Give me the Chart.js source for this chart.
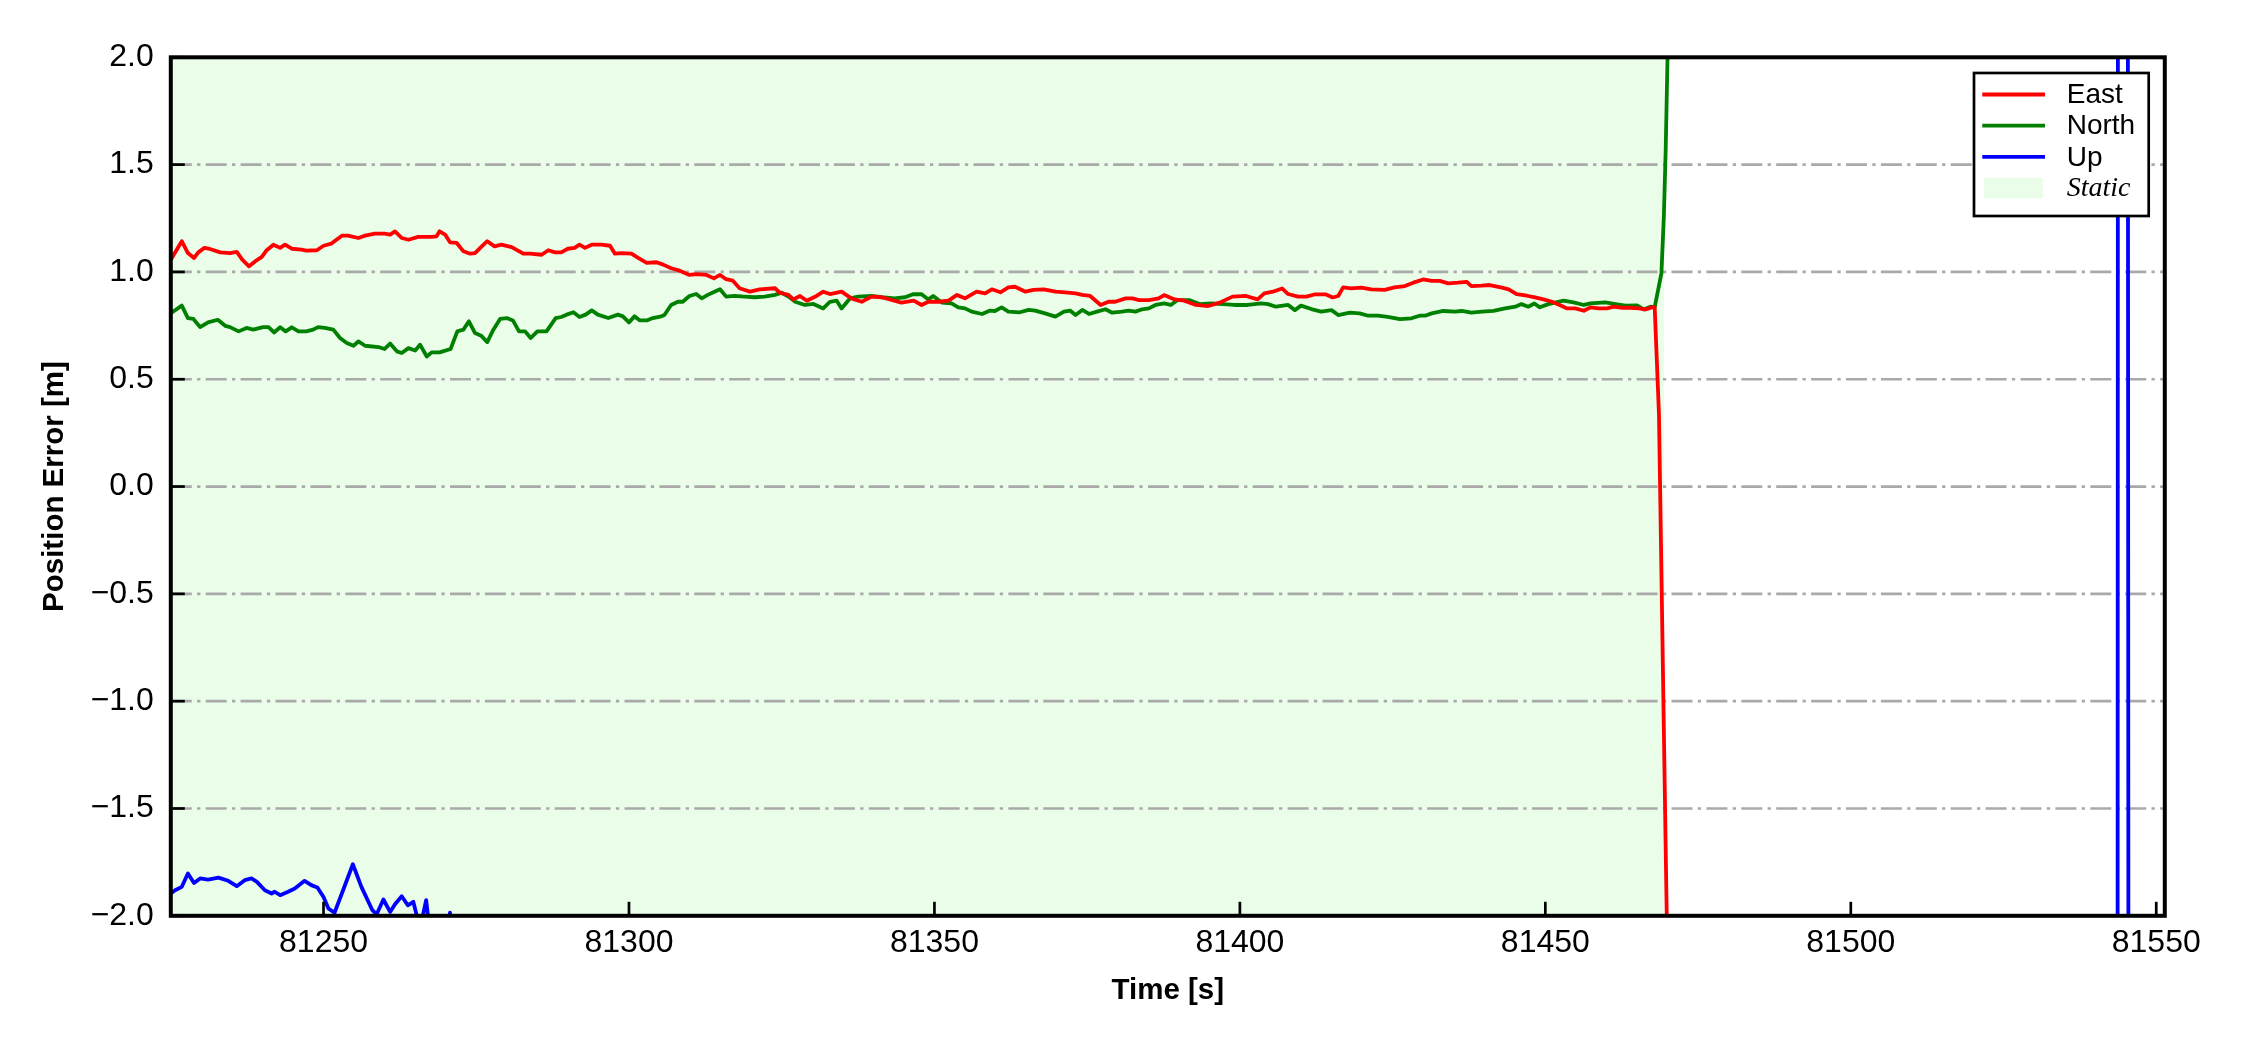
<!DOCTYPE html>
<html>
<head>
<meta charset="utf-8">
<script src="https://cdn.jsdelivr.net/npm/chart.js"></script>
<style>
  html, body { margin: 0; padding: 0; background: #ffffff; }
  #wrap { width: 2250px; height: 1050px; }
</style>
</head>
<body>
<div id="wrap"><canvas id="chart" width="2250" height="1050"></canvas></div>
<script>
// axis limits
const timeMin = 81225.0;
const timeMax = 81551.4;
const errMin = -2.0;
const errMax = 2.0;

// static period (shaded)
const staticStart = 81225.0;
const staticEnd = 81469.5;

const xTicks = [81250, 81300, 81350, 81400, 81450, 81500, 81550];
const yTicks = [-2.0, -1.5, -1.0, -0.5, 0.0, 0.5, 1.0, 1.5, 2.0];

// all times below are seconds after tBase
const tBase = 81200;

const eastT = [25.0, 26.8, 27.8, 28.8, 29.5, 30.5, 31.4, 33.1, 34.7, 35.8, 36.7, 37.8, 38.8, 39.9, 40.7, 41.8, 42.9, 43.7, 44.8, 46.4,
  47.2, 48.9, 50.0, 51.3, 53.0, 54.0, 55.7, 56.8, 58.4, 60.0, 60.9, 61.7, 62.8, 63.9, 65.5, 67.7, 68.5, 69.0, 69.9, 70.7,
  71.8, 72.9, 74.0, 74.8, 75.9, 76.8, 78.0, 79.1, 80.8, 82.7, 83.8, 85.7, 86.8, 87.9, 88.9, 90.0, 91.1, 91.9, 92.8, 93.9,
  95.5, 96.9, 97.7, 98.8, 100.4, 101.5, 102.9, 104.5, 105.6,
  106.9, 108.3, 109.9, 111.0, 112.7, 113.9, 114.9, 115.9, 117.0, 118.1, 119.8, 121.4, 123.9, 124.7, 126.1, 126.9, 128.0, 129.1, 130.7, 131.8,
  132.9, 134.8, 136.4, 138.1, 139.7, 141.4, 143.0, 144.6, 146.6, 147.9, 149.0, 150.7, 152.3, 153.7, 155.0, 156.9, 158.3, 159.4, 160.8, 162.1,
  163.2, 164.9, 166.2, 167.9, 169.8, 171.4, 173.1, 174.2, 175.5, 177.2, 178.5, 179.6, 181.3, 182.4, 183.5, 185.1, 186.7,
  187.6, 189.3, 190.9, 192.8, 194.8, 196.7, 198.8, 201.0, 202.9, 204.0, 205.4, 206.9, 207.9, 209.5, 210.9, 212.2, 214.1, 215.2, 216.1, 216.9,
  218.2, 219.9, 221.5, 223.7, 225.3, 227.0, 228.4, 230.0, 231.4, 232.7, 234.1, 235.7, 237.1, 237.9, 239.6, 240.9, 242.9, 244.0, 245.3, 247.0,
  248.3, 249.7, 251.1, 252.7, 253.5, 254.9, 256.3, 257.4, 258.7, 260.1, 261.2, 262.6, 263.9, 265.3, 266.4, 267.4, 267.9, 268.6, 269.9, 270.9];
const eastV = [1.057, 1.143, 1.088, 1.065, 1.091, 1.112, 1.107, 1.091, 1.088, 1.093, 1.057, 1.026, 1.049, 1.070, 1.101, 1.127, 1.112, 1.127, 1.108, 1.104,
  1.099, 1.101, 1.122, 1.132, 1.169, 1.169, 1.158, 1.169, 1.178, 1.178, 1.174, 1.189, 1.158, 1.150, 1.163, 1.163, 1.166, 1.189, 1.174, 1.138,
  1.135, 1.096, 1.085, 1.088, 1.119, 1.143, 1.119, 1.127, 1.116, 1.085, 1.085, 1.080, 1.101, 1.091, 1.091, 1.108, 1.112, 1.127, 1.112, 1.127,
  1.127, 1.122, 1.085, 1.088, 1.085, 1.065, 1.042, 1.045, 1.034,
  1.017, 1.006, 0.986, 0.990, 0.986, 0.970, 0.986, 0.966, 0.959, 0.924, 0.908, 0.919, 0.924, 0.903, 0.893, 0.872, 0.888, 0.866, 0.888, 0.908,
  0.897, 0.908, 0.877, 0.861, 0.885, 0.882, 0.869, 0.857, 0.866, 0.846, 0.861, 0.861, 0.866, 0.893, 0.877, 0.908, 0.900, 0.919, 0.905, 0.928,
  0.931, 0.908, 0.916, 0.919, 0.908, 0.905, 0.900, 0.893, 0.888, 0.846, 0.861, 0.861, 0.877, 0.877, 0.869, 0.869, 0.877,
  0.892, 0.872, 0.866, 0.846, 0.841, 0.857, 0.885, 0.888, 0.872, 0.900, 0.908, 0.923, 0.897, 0.885, 0.885, 0.895, 0.895, 0.881, 0.888, 0.928,
  0.923, 0.927, 0.919, 0.916, 0.928, 0.934, 0.950, 0.965, 0.958, 0.958, 0.947, 0.950, 0.954, 0.934, 0.936, 0.939, 0.927, 0.919, 0.897, 0.889,
  0.881, 0.872, 0.861, 0.841, 0.830, 0.830, 0.819, 0.835, 0.830, 0.830, 0.838, 0.833, 0.833, 0.830, 0.825, 0.835, 0.836, 0.337, -2.05, -3.0];

const northT = [25.0, 26.8, 27.8, 28.7, 29.8, 31.1, 32.7, 33.9, 34.7, 36.1, 37.4, 38.5, 40.1, 41.0, 41.9, 42.9, 43.8, 44.8, 45.9, 47.2,
  48.3, 49.1, 50.2, 51.6, 52.7, 53.8, 54.9, 55.7, 56.8, 59.0, 60.0, 60.9, 62.0, 62.8, 63.9, 65.0, 65.8, 66.9, 67.7, 69.0,
  70.8, 71.9, 72.9, 73.8, 74.8, 75.8, 76.8, 77.8, 78.9, 80.0, 81.0, 82.0, 83.0, 83.9, 85.0, 86.5, 88.0, 88.9, 89.8, 90.9,
  91.9, 92.9, 93.9, 94.9, 96.6, 98.2, 99.0, 100.0, 100.9, 101.8, 102.9, 103.9, 105.3,
  105.8, 106.9, 108.0, 108.8, 109.9, 111.0, 111.9, 112.9, 114.0, 114.9, 115.9, 117.3, 118.9, 120.6, 122.2, 123.9, 125.0, 126.1, 127.2, 128.8,
  130.2, 131.8, 132.9, 134.0, 134.8, 136.2, 137.5, 139.7, 141.4, 143.5, 145.2, 146.6, 147.9, 149.0, 149.8, 151.2, 152.8, 153.9, 155.0, 156.1,
  157.8, 159.1, 159.9, 161.0, 162.1, 164.0, 165.4, 166.5, 168.1, 169.8, 171.2, 172.2, 173.1, 174.2, 175.3, 176.6, 178.0, 179.1, 180.7, 181.8,
  182.9, 184.0, 185.1, 186.2,
  187.6, 188.7, 189.8, 191.7, 193.4, 195.3, 197.2, 199.1, 201.3, 203.5, 204.6, 205.9, 207.9, 209.0, 210.0, 211.7, 213.3, 215.0, 216.1, 218.0,
  219.6, 221.0, 222.6, 224.2, 226.2, 228.1, 229.4, 230.3, 231.4, 233.3, 235.2, 236.3, 237.9, 239.6, 241.5, 243.4, 245.1, 246.1, 247.2, 248.2,
  249.1, 250.5, 251.6, 253.0, 254.6, 256.3, 257.4, 259.8, 261.5, 263.1, 265.0, 266.1, 267.2, 267.9, 269.0, 269.4, 269.7, 270.0, 270.9];
const northV = [0.808, 0.843, 0.785, 0.781, 0.743, 0.765, 0.777, 0.749, 0.743, 0.723, 0.739, 0.731, 0.743, 0.743, 0.718, 0.742, 0.723, 0.742, 0.723, 0.723,
  0.731, 0.743, 0.739, 0.731, 0.692, 0.669, 0.656, 0.676, 0.656, 0.650, 0.641, 0.666, 0.630, 0.622, 0.645, 0.634, 0.661, 0.606, 0.625, 0.625,
  0.641, 0.723, 0.731, 0.770, 0.715, 0.703, 0.673, 0.731, 0.781, 0.785, 0.774, 0.723, 0.723, 0.692, 0.723, 0.723, 0.785, 0.790, 0.801, 0.812,
  0.790, 0.801, 0.821, 0.801, 0.785, 0.801, 0.793, 0.765, 0.793, 0.774, 0.774, 0.785, 0.793,
  0.799, 0.846, 0.861, 0.861, 0.888, 0.897, 0.877, 0.893, 0.908, 0.919, 0.885, 0.888, 0.885, 0.882, 0.885, 0.893, 0.903, 0.885, 0.861, 0.846,
  0.851, 0.830, 0.861, 0.866, 0.830, 0.877, 0.885, 0.888, 0.882, 0.877, 0.882, 0.897, 0.896, 0.872, 0.888, 0.857, 0.854, 0.835, 0.830, 0.815,
  0.804, 0.820, 0.818, 0.835, 0.815, 0.812, 0.823, 0.820, 0.807, 0.792, 0.815, 0.820, 0.799, 0.823, 0.804, 0.815, 0.826, 0.810, 0.815, 0.820,
  0.815, 0.826, 0.830, 0.846,
  0.853, 0.846, 0.869, 0.869, 0.850, 0.853, 0.850, 0.846, 0.846, 0.853, 0.850, 0.838, 0.846, 0.822, 0.843, 0.827, 0.815, 0.822, 0.799, 0.810,
  0.807, 0.796, 0.796, 0.791, 0.780, 0.784, 0.796, 0.796, 0.807, 0.818, 0.815, 0.818, 0.810, 0.815, 0.819, 0.830, 0.838, 0.850, 0.838, 0.853,
  0.835, 0.850, 0.857, 0.866, 0.858, 0.846, 0.853, 0.858, 0.850, 0.843, 0.844, 0.825, 0.838, 0.836, 0.993, 1.258, 1.568, 2.003, 3.0];

const upT = [25.0, 25.7, 26.8, 27.8, 28.8, 29.8, 31.1, 32.8, 34.4, 35.8, 37.1, 38.2, 39.1, 40.4, 41.5, 42.0, 42.9, 44.2, 45.3, 46.9,
  48.0, 49.0, 50.0, 50.8, 51.8, 53.2, 54.8, 56.2, 58.0, 58.7, 59.8, 60.9, 61.7, 62.8, 63.8, 64.7, 65.8, 66.8, 67.7, 69.6,
  70.7, 71.7, 100.0, 200.0, 270.0, 300.0, 343.2, 344.2, 345.2, 346.2, 351.4];
const upV = [-1.896, -1.881, -1.865, -1.803, -1.847, -1.826, -1.831, -1.822, -1.837, -1.862, -1.834, -1.826, -1.842, -1.881, -1.896, -1.888, -1.904, -1.888, -1.873, -1.837,
  -1.857, -1.868, -1.912, -1.966, -1.986, -1.881, -1.760, -1.865, -1.974, -1.993, -1.924, -1.982, -1.946, -1.909, -1.951, -1.935, -2.06, -1.927, -2.15, -2.4,
  -1.985, -2.4, -2.6, -2.7, -2.6, -3.0, -45, 45, 10, -40, -30];

const sansFont = "'Liberation Sans', Arial, Helvetica, sans-serif";
const serifFont = "'Liberation Serif', 'Times New Roman', serif";
const gridColor = '#a9a9a9';
const staticColor = 'rgb(233, 253, 233)';
const curveWidth = 3.8;

function toPoints(ts, vs) {
  return ts.map((t, i) => ({ x: tBase + t, y: vs[i] }));
}

function lineSet(label, ts, vs, color) {
  return {
    label: label,
    data: toPoints(ts, vs),
    borderColor: color,
    backgroundColor: color,
    borderWidth: curveWidth,
    borderJoinStyle: 'round',
    pointRadius: 0,
    tension: 0,
    fill: false,
    clip: 0,
    order: 1
  };
}

function fmtErr(v) {
  const s = Math.abs(v).toFixed(1);
  return v < 0 ? '\u2212' + s : s;
}

// grid drawn right after the shading, so it sits between shading and curves
const framePlugin = {
  id: 'frame',
  afterDatasetDraw(chart, args) {
    if (chart.data.datasets[args.index].label !== 'Static') return;
    const { ctx, chartArea: a } = chart;
    const y = chart.scales.y;
    ctx.save();
    ctx.strokeStyle = gridColor;
    ctx.lineWidth = 2.7;
    ctx.setLineDash([21, 5.3, 3.3, 5.3]);
    yTicks.forEach(v => {
      if (v <= errMin || v >= errMax) return;
      const py = y.getPixelForValue(v);
      ctx.beginPath();
      ctx.moveTo(a.left, py);
      ctx.lineTo(a.right, py);
      ctx.stroke();
    });
    ctx.restore();
  },
  afterDatasetsDraw(chart) {
    const { ctx, chartArea: a } = chart;
    const x = chart.scales.x;
    const y = chart.scales.y;
    const tickLen = 14;
    ctx.save();
    ctx.strokeStyle = '#000000';
    ctx.lineWidth = 2.7;
    xTicks.forEach(v => {
      const px = x.getPixelForValue(v);
      ctx.beginPath();
      ctx.moveTo(px, a.bottom);
      ctx.lineTo(px, a.bottom - tickLen);
      ctx.stroke();
    });
    yTicks.forEach(v => {
      const py = y.getPixelForValue(v);
      ctx.beginPath();
      ctx.moveTo(a.left, py);
      ctx.lineTo(a.left + tickLen, py);
      ctx.stroke();
    });
    ctx.lineWidth = 4;
    ctx.strokeRect(a.left, a.top, a.right - a.left, a.bottom - a.top);
    ctx.restore();
  },
  afterDraw(chart) {
    // legend box in the upper right corner of the axes
    const { ctx, chartArea: a } = chart;
    const w = 174.7, h = 143;
    const bx = a.right - 16.1 - w;
    const by = a.top + 15.7;
    ctx.save();
    ctx.fillStyle = '#ffffff';
    ctx.fillRect(bx, by, w, h);
    ctx.strokeStyle = '#000000';
    ctx.lineWidth = 2.7;
    ctx.strokeRect(bx, by, w, h);
    ctx.textBaseline = 'middle';
    ctx.textAlign = 'left';
    const order = ['East', 'North', 'Up', 'Static'];
    order.forEach((name, i) => {
      const ds = chart.data.datasets.find(d => d.label === name);
      const ry = by + 21.5 + i * 31.2;
      if (name === 'Static') {
        ctx.fillStyle = ds.backgroundColor;
        ctx.fillRect(bx + 10, ry - 10.3, 58.7, 20.6);
        ctx.font = 'italic 28px ' + serifFont;
      } else {
        ctx.strokeStyle = ds.borderColor;
        ctx.lineWidth = curveWidth;
        ctx.beginPath();
        ctx.moveTo(bx + 8.3, ry);
        ctx.lineTo(bx + 71, ry);
        ctx.stroke();
        ctx.font = '28px ' + sansFont;
      }
      ctx.fillStyle = '#000000';
      ctx.fillText(name, bx + 92.7, ry + 1);
    });
    ctx.restore();
  }
};

const chart = new Chart(document.getElementById('chart').getContext('2d'), {
  type: 'line',
  data: {
    datasets: [
      lineSet('East', eastT, eastV, '#ff0000'),
      lineSet('North', northT, northV, '#008000'),
      lineSet('Up', upT, upV, '#0000ff'),
      {
        label: 'Static',
        data: [{ x: staticStart, y: errMax }, { x: staticEnd, y: errMax }],
        borderWidth: 0,
        borderColor: 'rgba(0,0,0,0)',
        backgroundColor: staticColor,
        fill: 'start',
        pointRadius: 0,
        order: 10
      }
    ]
  },
  options: {
    responsive: false,
    animation: false,
    devicePixelRatio: 1,
    layout: { padding: { left: 0, right: 85.2, top: 57.3, bottom: 0 } },
    plugins: {
      legend: { display: false },
      tooltip: { enabled: false }
    },
    scales: {
      x: {
        type: 'linear',
        min: timeMin,
        max: timeMax,
        afterBuildTicks: s => { s.ticks = xTicks.map(v => ({ value: v })); },
        afterFit: s => { s.height = 134.2; },
        grid: { display: false, drawTicks: false },
        border: { display: false },
        ticks: {
          autoSkip: false,
          maxRotation: 0,
          padding: 8,
          color: '#000000',
          font: { family: sansFont, size: 32 },
          callback: v => String(v)
        },
        title: {
          display: true,
          text: 'Time [s]',
          color: '#000000',
          font: { family: sansFont, size: 29.5, weight: 'bold' },
          padding: { top: 0, bottom: 41 }
        }
      },
      y: {
        type: 'linear',
        min: errMin,
        max: errMax,
        afterBuildTicks: s => { s.ticks = yTicks.map(v => ({ value: v })); },
        afterFit: s => { s.width = 170.8; },
        grid: { display: false, drawTicks: false },
        border: { display: false },
        ticks: {
          padding: 17,
          color: '#000000',
          font: { family: sansFont, size: 32 },
          callback: v => fmtErr(v)
        },
        title: {
          display: true,
          text: 'Position Error [m]',
          color: '#000000',
          font: { family: sansFont, size: 29.5, weight: 'bold' },
          padding: { top: 37, bottom: 0 }
        }
      }
    }
  },
  plugins: [framePlugin]
});
</script>
</body>
</html>
